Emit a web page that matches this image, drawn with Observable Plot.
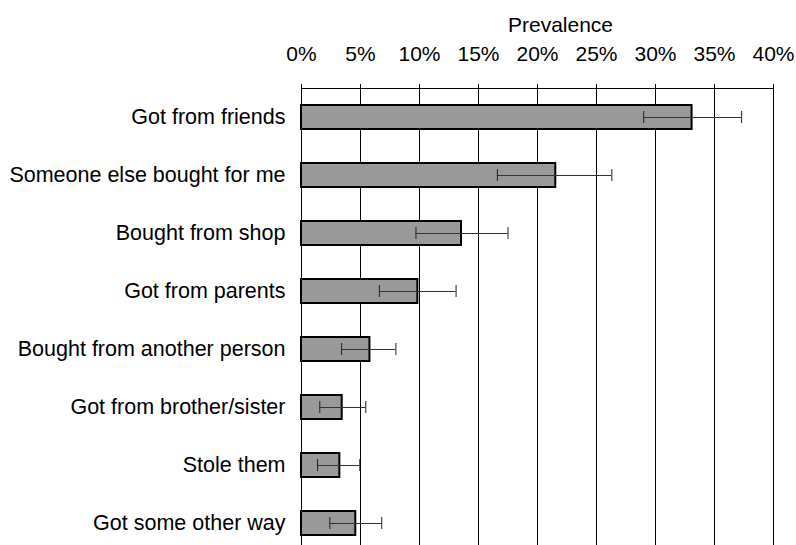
<!DOCTYPE html>
<html>
<head>
<meta charset="utf-8">
<script src="https://cdn.jsdelivr.net/npm/d3@7"></script>
<script src="https://cdn.jsdelivr.net/npm/@observablehq/plot@0.6"></script>
<style>
  html, body { margin: 0; padding: 0; background: white; }
  #chart svg { display: block; }
</style>
</head>
<body>
<div id="chart"></div>
<script>
const categories = [
  "Got from friends",
  "Someone else bought for me",
  "Bought from shop",
  "Got from parents",
  "Bought from another person",
  "Got from brother/sister",
  "Stole them",
  "Got some other way"
];
const prevalence = [0.331, 0.2155, 0.1356, 0.0986, 0.058, 0.0345, 0.0325, 0.046];
const lower =      [0.290, 0.166,  0.097,  0.066,  0.034, 0.0155, 0.0136, 0.024];
const upper =      [0.373, 0.263,  0.175,  0.131,  0.080, 0.0545, 0.0494, 0.068];
const xTicks = [0, 0.05, 0.10, 0.15, 0.20, 0.25, 0.30, 0.35, 0.40];
const axisTitle = "Prevalence";

const data = categories.map((c, i) => ({cat: c, v: prevalence[i], lo: lower[i], hi: upper[i]}));

const font = "'Liberation Sans', Arial, sans-serif";

const chart = Plot.plot({
  width: 796,
  height: 545,
  marginLeft: 301,
  marginRight: 23,
  marginTop: 88,
  marginBottom: 0,
  style: {fontFamily: font, fontSize: "21px", color: "black", background: "white"},
  x: {domain: [0, 0.4]},
  y: {domain: categories, range: [88, 552], paddingInner: 0.586, paddingOuter: 0.293},
  marks: [
    Plot.gridX(xTicks, {stroke: "black", strokeOpacity: 1, strokeWidth: 1}),
    Plot.frame({anchor: "top", stroke: "black", strokeWidth: 1}),
    Plot.axisX(xTicks, {anchor: "top", tickSize: 5, tickPadding: 23, tickFormat: d3.format(".0%"), fontSize: 21, label: null, stroke: "black"}),
    Plot.axisY({anchor: "left", tickSize: 0, tickPadding: 16, fontSize: 21.5, label: null}),
    Plot.text([axisTitle], {frameAnchor: "top", dx: 23, dy: -63, lineAnchor: "middle", fontSize: 21, fill: "black"}),
    Plot.barX(data, {x: "v", y: "cat", fill: "#999999", stroke: "black", strokeWidth: 2}),
    Plot.ruleY(data, {x1: "lo", x2: "hi", y: "cat", stroke: "#333", strokeWidth: 1}),
    Plot.tickX(data, {x: "lo", y: "cat", stroke: "#222", strokeWidth: 1, insetTop: 6, insetBottom: 6}),
    Plot.tickX(data, {x: "hi", y: "cat", stroke: "#222", strokeWidth: 1, insetTop: 6, insetBottom: 6})
  ]
});
document.getElementById("chart").appendChild(chart);
</script>
</body>
</html>
